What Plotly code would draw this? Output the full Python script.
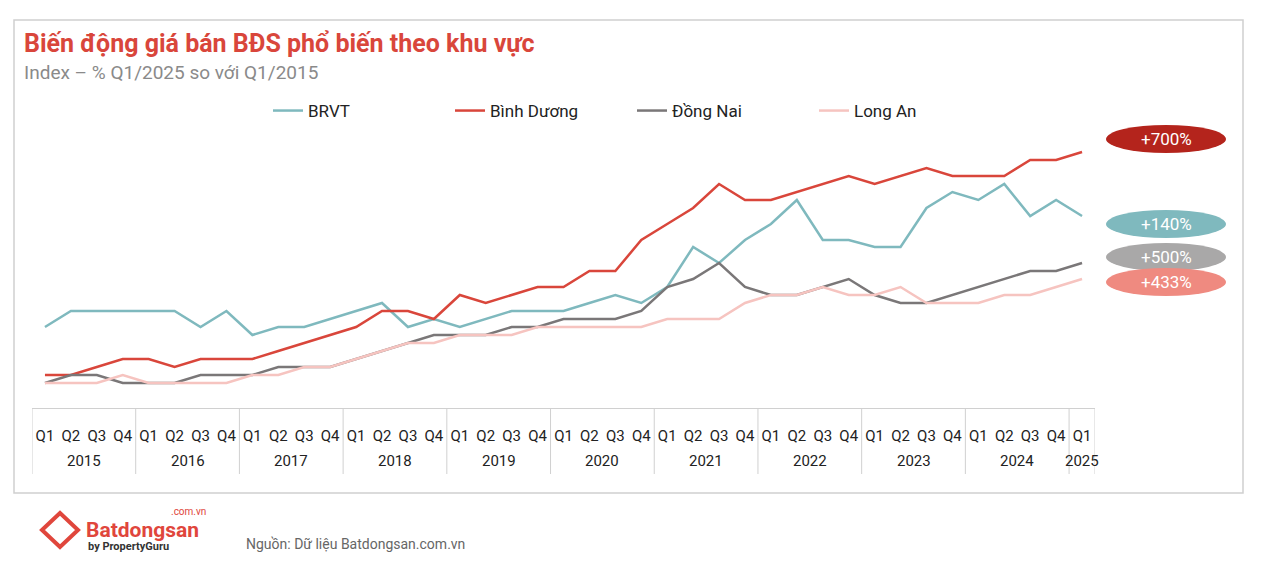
import plotly.graph_objects as go

# quarters Q1 2015 .. Q1 2025
year_labels = [str(y) for y in range(2015, 2026)]
quarters = ["Q1", "Q2", "Q3", "Q4"] * 10 + ["Q1"]
idx = list(range(len(quarters)))

# index values (relative units)
brvt = [81, 97, 97, 97, 97, 97, 81, 97, 73, 81, 81, 89, 97, 105, 81, 89, 81, 89, 97, 97,
        97, 105, 113, 105, 121, 161, 145, 168, 184, 208, 168, 168, 161, 161, 200, 216, 208, 224, 192, 208, 192]
binh_duong = [33, 33, 41, 49, 49, 41, 49, 49, 49, 57, 65, 73, 81, 97, 97, 89, 113, 105, 113, 121,
              121, 137, 137, 168, 184, 200, 224, 208, 208, 216, 224, 232, 224, 232, 240, 232, 232, 232, 248, 248, 256]
dong_nai = [25, 33, 33, 25, 25, 25, 33, 33, 33, 41, 41, 41, 49, 57, 65, 73, 73, 73, 81, 81,
            89, 89, 89, 97, 121, 129, 145, 121, 113, 113, 121, 129, 113, 105, 105, 113, 121, 129, 137, 137, 145]
long_an = [25, 25, 25, 33, 25, 25, 25, 25, 33, 33, 41, 41, 49, 57, 65, 65, 73, 73, 73, 81,
           81, 81, 81, 81, 89, 89, 89, 105, 113, 113, 121, 113, 113, 121, 105, 105, 105, 113, 113, 121, 129]

series = [("BRVT", brvt, "#7fb9be"), ("Bình Dương", binh_duong, "#d9463b"),
          ("Đồng Nai", dong_nai, "#7a7778"), ("Long An", long_an, "#f6c4c0")]

pills = [("+700%", "#b4241c", 139), ("+140%", "#7fb9be", 224),
         ("+500%", "#a9a8a8", 257), ("+433%", "#ef8a80", 282)]

W, H = 1278, 564
OFF = 8
L, R, T, B = 32 - OFF, 1278 - 1095 + OFF, 130 - OFF, 564 - 408 + OFF


def px(x):
    return (x - OFF - L) / (W - L - R)


def py(y):
    return (H - B - (y - OFF)) / (H - T - B)


fig = go.Figure()
for name, vals, col in series:
    fig.add_trace(go.Scatter(x=idx, y=vals, name=name, mode="lines",
                             line=dict(color=col, width=2.5)))

shapes = [dict(type="rect", xref="paper", yref="paper", x0=px(14), x1=px(1243), y0=py(20), y1=py(493),
               line=dict(color="#d0d0d0", width=1.5), layer="below")]
annotations = []

# year group dividers and labels
for k, yl in enumerate(year_labels):
    start = 4 * k
    end = min(4 * k + 3, len(quarters) - 1)
    shapes.append(dict(type="line", xref="x", yref="paper", x0=start - 0.5, x1=start - 0.5,
                       y0=py(408), y1=py(474), line=dict(color="#d0d0d0", width=1)))
    annotations.append(dict(text=yl, x=(start + end) / 2, y=py(461), xref="x", yref="paper",
                            showarrow=False, xanchor="center", yanchor="middle",
                            font=dict(size=15, color="#222")))
shapes.append(dict(type="line", xref="x", yref="paper", x0=len(quarters) - 0.5, x1=len(quarters) - 0.5,
                   y0=py(408), y1=py(474), line=dict(color="#d0d0d0", width=1)))

for text, col, yc in pills:
    shapes.append(dict(type="circle", xref="paper", yref="paper", x0=px(1106), x1=px(1226),
                       y0=py(yc - 14), y1=py(yc + 14), fillcolor=col, line=dict(width=0)))
    annotations.append(dict(text=text, x=px(1166), y=py(yc), xref="paper", yref="paper", showarrow=False,
                            xanchor="center", yanchor="middle", font=dict(size=17, color="white")))

texts = [
    ("<b>Biến động giá bán BĐS phổ biến theo khu vực</b>", 22, 44, "left", 25, "#d9463b"),
    ("Index – % Q1/2025 so với Q1/2015", 22, 73, "left", 19, "#8a8a8a"),
    ("<b>Batdongsan</b>", 84, 530, "left", 21, "#e0463c"),
    (".com.vn", 208, 512, "right", 10, "#e0463c"),
    ("<b>by PropertyGuru</b>", 86, 546, "left", 11, "#333"),
    ("Nguồn: Dữ liệu Batdongsan.com.vn", 244, 544, "left", 14, "#666"),
]
for t, x, y, xa, sz, col in texts:
    annotations.append(dict(text=t, x=px(x), y=py(y), xref="paper", yref="paper", xanchor=xa,
                            yanchor="middle", showarrow=False, font=dict(size=sz, color=col)))

# simple logo mark
shapes.append(dict(type="path", xref="paper", yref="paper",
                   path="M %f %f L %f %f L %f %f L %f %f Z" % (px(42), py(530), px(60), py(513), px(78), py(530), px(60), py(547)),
                   line=dict(color="#e0463c", width=4)))

fig.update_layout(
    width=W, height=H, margin=dict(l=L, r=R, t=T, b=B),
    paper_bgcolor="white", plot_bgcolor="white",
    font=dict(family="Roboto, Arial", size=15, color="#222"),
    showlegend=True,
    legend=dict(orientation="h", x=px(268), xanchor="left", y=py(111), yanchor="middle",
                font=dict(size=17), entrywidth=137, entrywidthmode="pixels", itemwidth=30,
                traceorder="normal"),
    xaxis=dict(range=[-0.5, len(quarters) - 0.5], tickmode="array", tickvals=idx, ticktext=quarters,
               showline=True, linecolor="#d0d0d0", tickfont=dict(size=15), tickangle=0,
               showgrid=False, zeroline=False, ticks="", ticklabelstandoff=14, automargin=False),
    yaxis=dict(range=[0, H - T - B], visible=False),
    shapes=shapes, annotations=annotations,
)
fig.write_html("out.html")
